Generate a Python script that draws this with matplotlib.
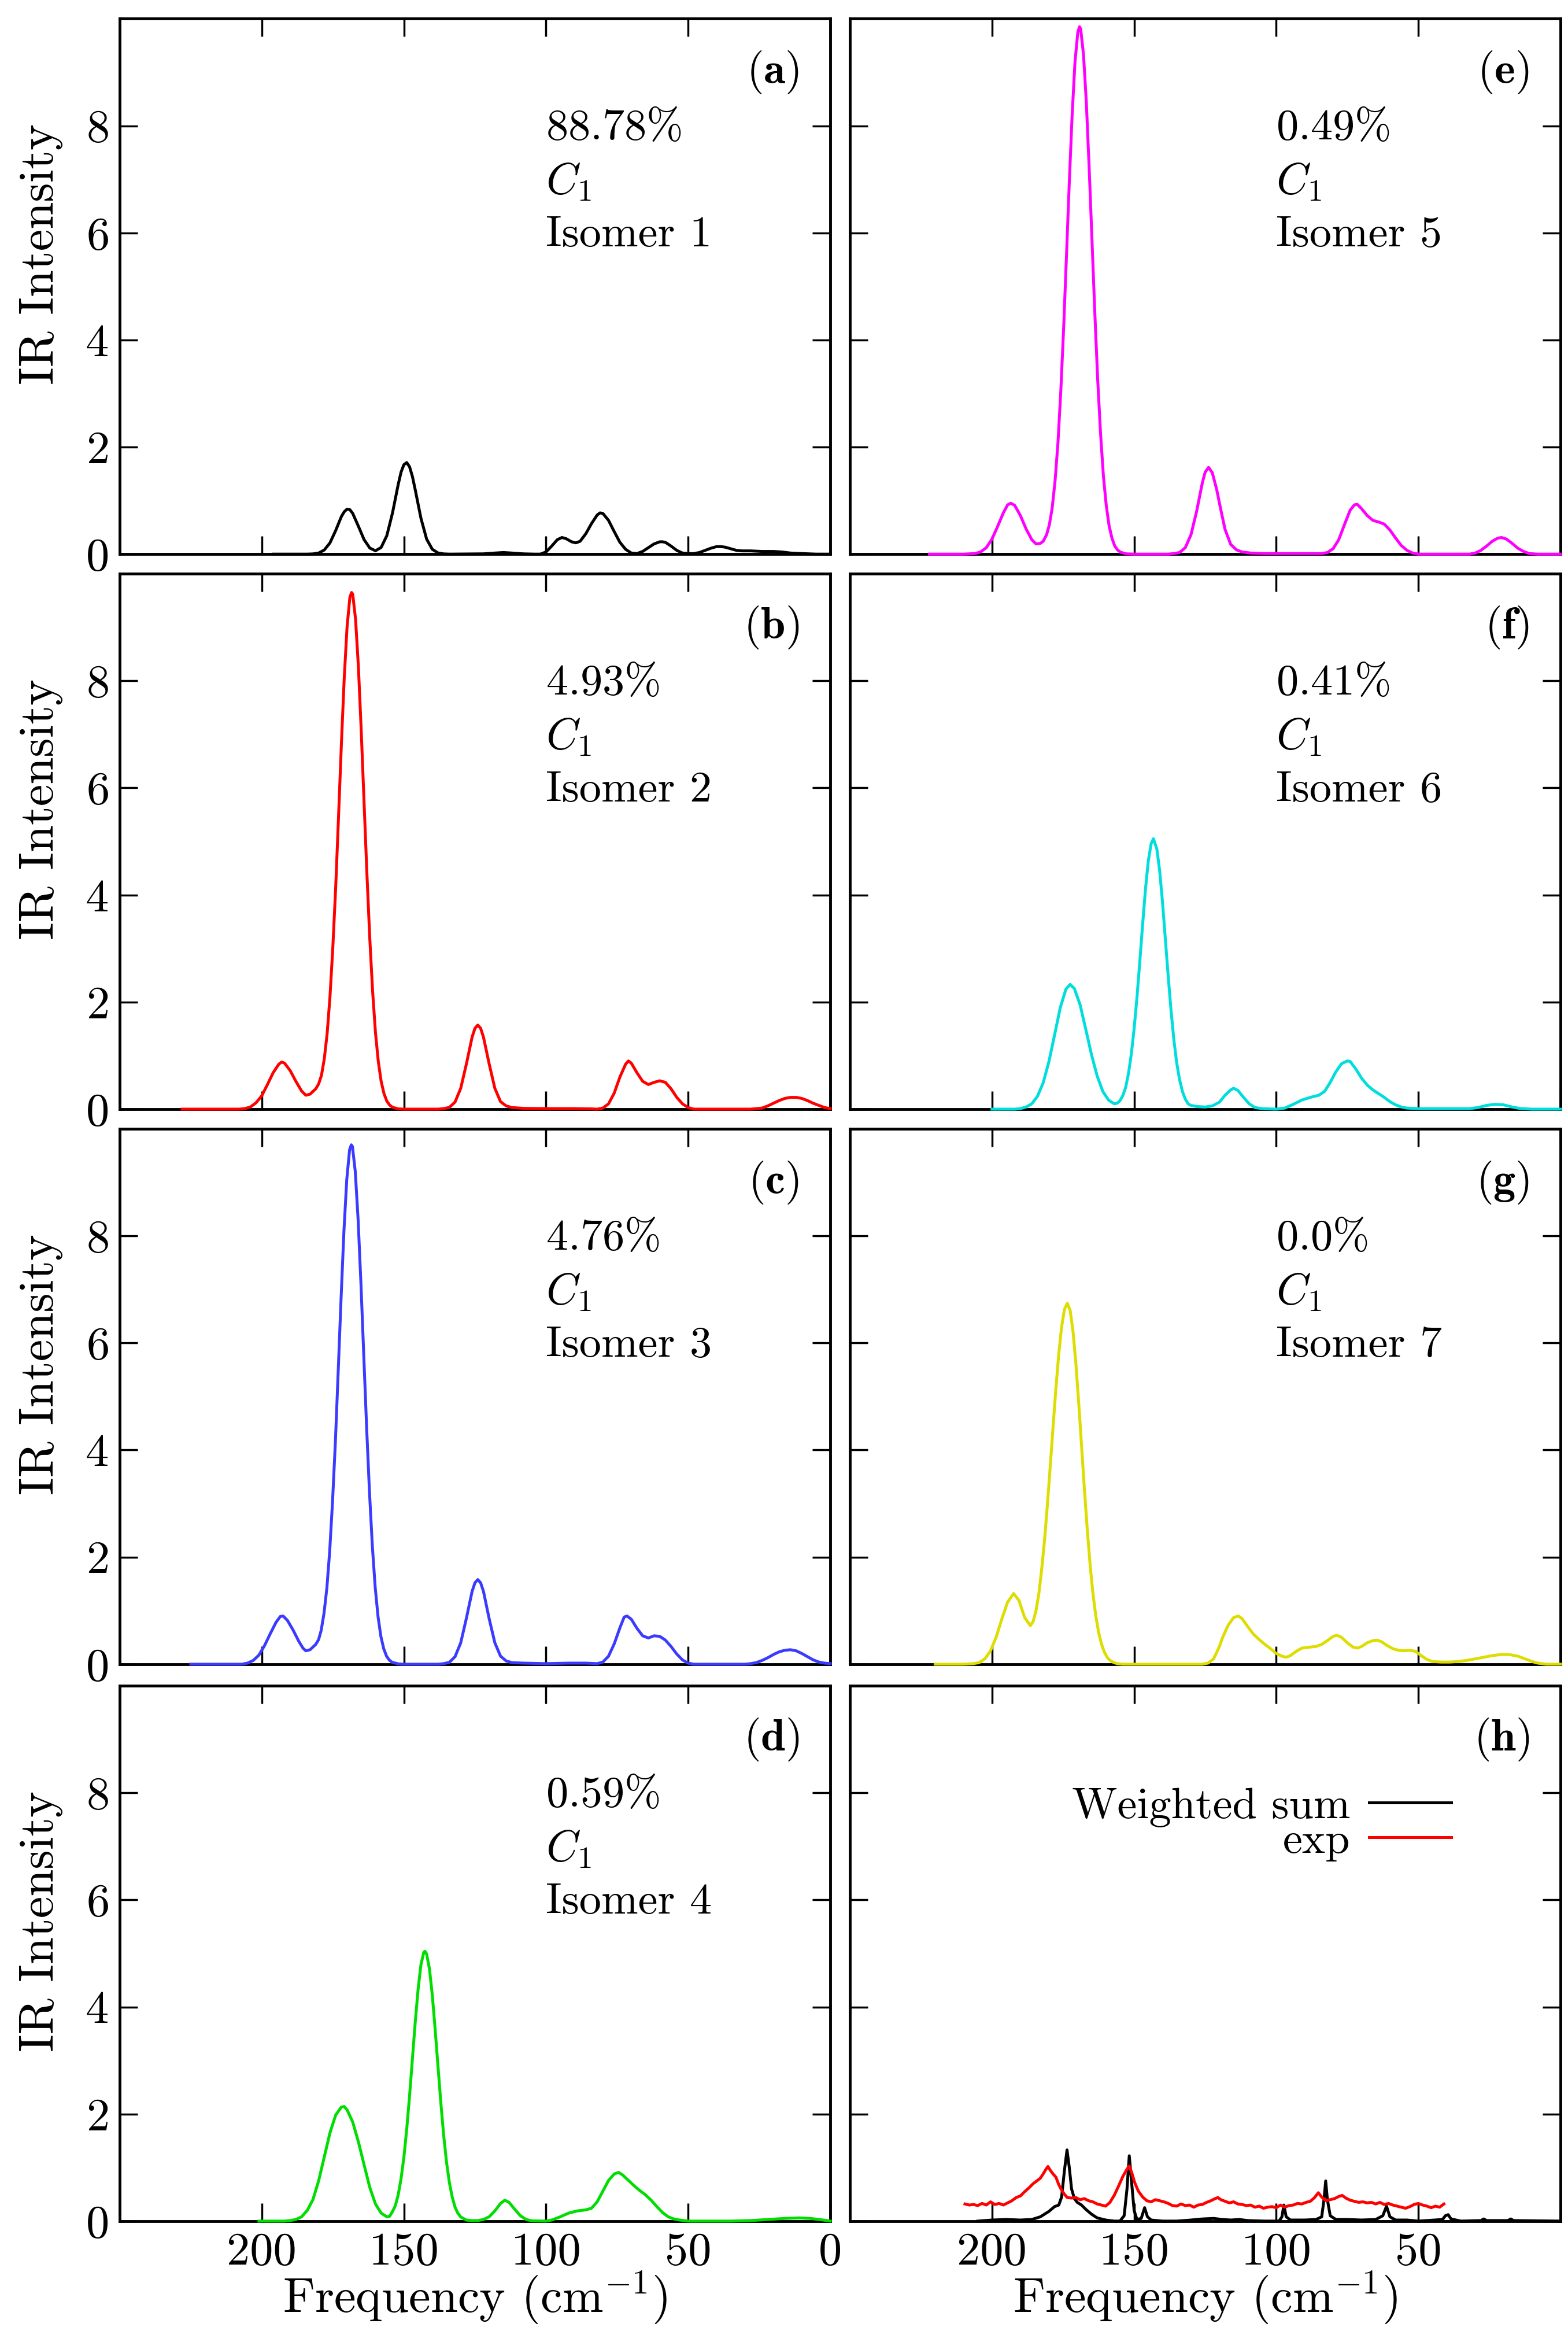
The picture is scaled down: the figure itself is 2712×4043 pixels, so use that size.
import matplotlib.pyplot as plt

plt.rcParams['font.family'] = 'cmr10'
plt.rcParams['mathtext.fontset'] = 'cm'
plt.rcParams['axes.formatter.use_mathtext'] = True
plt.rcParams['axes.unicode_minus'] = False

spec_a = [(196,0),(184,0),(182,0.004),(180,0.02),(178,0.077),(176,0.21),(174,0.44),(172,0.70),(171,0.79),(170,0.84),
          (169,0.83),(168,0.76),(166,0.52),(164,0.27),(162,0.114),(160,0.062),(158,0.124),(156,0.345),(154,0.77),(152,1.30),
          (151,1.53),(150,1.67),(149,1.71),(148,1.63),(147,1.45),(146,1.2),(144,0.67),(142,0.28),(140,0.09),(138,0.022),
          (136,0.004),(134,0),(122,0.005),(118,0.02),(115,0.03),(112,0.02),(108,0.005),(104,0),(102,0),(100,0.04),
          (98,0.15),(96,0.27),(94.4,0.31),(93,0.29),(91,0.23),(89.5,0.21),(88,0.24),(86,0.38),(84,0.57),(82,0.73),
          (81,0.77),(80,0.76),(78,0.63),(76,0.42),(74,0.22),(72,0.09),(70,0.02),(68,0.01),(66,0.05),(64,0.12),
          (62,0.19),(60,0.23),(59,0.23),(58,0.22),(56,0.15),(54,0.07),(52,0.02),(50,0.01),(48,0.01),(46,0.03),
          (44,0.07),(42,0.11),(40,0.14),(38.5,0.14),(37,0.13),(35,0.1),(33,0.07),(31,0.06),(28,0.06),(24,0.05),
          (20,0.05),(17,0.04),(14,0.02),(10,0.01),(5,0),(0,0)]

spec_b = [(228,0),(215,0),(208,0),(206,0.01),(204,0.04),(202,0.12),(200,0.25),(198,0.46),(196,0.68),(194,0.84),
          (193,0.88),(192,0.86),(190,0.72),(188,0.52),(186,0.34),(184.5,0.26),(183,0.28),(182,0.33),(181,0.38),(180,0.47),
          (179,0.63),(178,0.94),(177,1.41),(176,2.1),(175,3.02),(174,4.13),(173,5.45),(172,6.8),(171,8.04),(170,9.0),
          (169,9.56),(168.4,9.65),(168,9.62),(167,9.15),(166,8.26),(165,7.06),(164,5.72),(163,4.39),(162,3.19),(161,2.2),
          (160,1.43),(159,0.89),(158,0.52),(157,0.29),(156,0.15),(155,0.075),(154,0.035),(152,0.005),(150,0),(138,0),
          (136,0.01),(134,0.033),(132,0.133),(130,0.39),(128,0.846),(126,1.345),(125,1.51),(124,1.57),(123,1.51),(122,1.345),
          (120,0.846),(118,0.39),(116,0.14),(114,0.06),(112,0.03),(108,0.015),(100,0.01),(90,0.01),(84,0.005),(82,0),
          (80,0.02),(78,0.1),(76,0.3),(74,0.6),(72,0.84),(71,0.9),(70,0.86),(68,0.68),(66,0.52),(64,0.46),
          (62,0.5),(60,0.53),(58,0.5),(56,0.38),(54,0.22),(52,0.1),(50,0.03),(48,0),(28,0),(26,0.01),
          (24,0.02),(22,0.06),(20,0.11),(18,0.16),(16,0.2),(14,0.22),(12,0.22),(10,0.2),(8,0.16),(6,0.11),
          (4,0.07),(2,0.03),(0,0.01)]

spec_c = [(225,0),(212,0),(207,0),(205,0.02),(203,0.07),(201,0.17),(199,0.35),(197,0.57),(195,0.78),(193.5,0.89),
          (192.5,0.9),(191,0.82),(189,0.64),(187,0.43),(185.5,0.3),(184.5,0.25),(183,0.27),(182,0.32),(181,0.37),(180,0.46),
          (179.1,0.63),(178.1,0.95),(177.1,1.42),(176.1,2.11),(175.1,3.04),(174.1,4.15),(173.1,5.48),(172.1,6.83),(171.1,8.08),(170.1,9.05),
          (169.1,9.61),(168.5,9.7),(168.1,9.67),(167.1,9.2),(166.1,8.3),(165.1,7.1),(164.1,5.75),(163.1,4.41),(162.1,3.21),(161.1,2.21),
          (160.1,1.44),(159.1,0.89),(158.1,0.52),(157.1,0.29),(156.1,0.15),(155.1,0.075),(154.1,0.035),(152,0.006),(150,0),(138,0),
          (136,0.01),(134,0.035),(132,0.14),(130,0.4),(128,0.86),(126,1.36),(125,1.52),(124,1.58),(123,1.52),(122,1.36),
          (120,0.85),(118,0.4),(116,0.15),(114,0.06),(112,0.03),(108,0.02),(100,0.01),(92,0.02),(86,0.02),(82,0.01),
          (80,0.04),(78,0.15),(76,0.38),(74,0.68),(72.5,0.88),(71.5,0.9),(70,0.84),(68,0.67),(66,0.53),(64,0.49),
          (62,0.53),(60,0.52),(58,0.45),(56,0.33),(54,0.19),(52,0.08),(50,0.02),(48,0),(30,0),(28,0.01),
          (26,0.03),(24,0.07),(22,0.12),(20,0.18),(18,0.23),(16,0.26),(14,0.27),(12,0.25),(10,0.2),(8,0.14),
          (6,0.08),(4,0.04),(2,0.02),(0,0.01)]

spec_d = [(201,0),(192,0),(190,0.01),(188,0.03),(186,0.08),(184,0.2),(182,0.4),(180,0.75),(178,1.2),(176,1.65),
          (174,1.98),(172,2.13),(171,2.14),(170,2.08),(168,1.85),(166,1.48),(164,1.05),(162,0.63),(160,0.32),(158,0.15),
          (156,0.08),(155,0.09),(154,0.18),(153,0.29),(152,0.49),(151,0.79),(150,1.19),(149,1.72),(148,2.34),(147,3.03),
          (146,3.72),(145,4.33),(144,4.79),(143,5.02),(142.6,5.04),(142,4.99),(141,4.71),(140,4.22),(139,3.58),(138,2.89),
          (137,2.21),(136,1.6),(135,1.1),(134,0.72),(133,0.45),(132,0.26),(131,0.146),(130,0.077),(128,0.019),(126,0.01),
          (124,0.01),(122,0.03),(120,0.08),(118,0.19),(116,0.33),(114.5,0.39),(113,0.35),(111,0.22),(109,0.1),(107,0.03),
          (105,0.005),(100,0),(98,0.02),(95,0.08),(92,0.15),(89,0.19),(86,0.21),(84,0.24),(82,0.36),(80,0.56),
          (78,0.76),(76,0.88),(74.5,0.91),(73,0.86),(71,0.76),(69,0.66),(67,0.57),(65,0.49),(63,0.39),(61,0.27),
          (59,0.16),(57,0.08),(55,0.04),(53,0.02),(50,0),(35,0),(28,0.01),(22,0.03),(16,0.05),(11,0.06),
          (7,0.05),(4,0.03),(1,0.01),(0,0)]

spec_e = [(222,0),(210,0),(206,0.01),(204,0.04),(202,0.12),(200,0.28),(198,0.52),(196,0.77),(194.5,0.92),(193.4,0.95),
          (192,0.91),(190,0.72),(188,0.47),(186,0.27),(184.5,0.19),(183,0.2),(182,0.24),(180.8,0.36),(179.8,0.55),(178.8,0.87),
          (177.8,1.37),(176.8,2.07),(175.8,3.03),(174.8,4.21),(173.8,5.56),(172.8,6.94),(171.8,8.2),(170.8,9.19),(169.8,9.75),(169.2,9.85),
          (168.8,9.81),(167.8,9.33),(166.8,8.43),(165.8,7.2),(164.8,5.84),(163.8,4.48),(162.8,3.25),(161.8,2.25),(160.8,1.46),(159.8,0.91),
          (158.8,0.53),(157.8,0.3),(156.8,0.15),(155.8,0.077),(154.8,0.036),(152.8,0.005),(150,0),(138,0),(136,0.01),(134,0.03),
          (132,0.12),(130,0.36),(128,0.8),(126,1.33),(125,1.53),(123.8,1.62),(122.5,1.52),(121,1.22),(119.5,0.83),(118,0.46),
          (116,0.18),(114,0.08),(112,0.04),(109,0.02),(104,0.01),(96,0.01),(90,0.01),(84,0.01),(82,0.03),(80,0.1),
          (78,0.27),(76,0.55),(74,0.82),(72.5,0.92),(71.5,0.93),(70,0.85),(68,0.72),(66,0.63),(64,0.6),(62,0.56),
          (60,0.45),(58,0.3),(56,0.16),(54,0.07),(52,0.02),(50,0),(32,0),(30,0.02),(28,0.07),(26,0.15),
          (24,0.24),(22,0.3),(20.7,0.31),(19,0.28),(17,0.2),(15,0.11),(13,0.05),(11,0.01),(8,0),(0,0)]

spec_f = [(200,0),(192,0),(190,0.01),(188,0.04),(186,0.1),(184,0.24),(182,0.49),(180,0.88),(178,1.38),(176,1.89),
          (174,2.24),(172.5,2.33),(171,2.25),(169,1.95),(167,1.49),(165,1.02),(163,0.62),(161,0.33),(159,0.17),(157,0.1),
          (156,0.11),(155,0.155),(154,0.25),(153,0.4),(152,0.66),(151,1.02),(150,1.5),(149,2.08),(148,2.75),(147,3.45),
          (146,4.11),(145,4.64),(144,4.96),(143.2,5.05),(142,4.86),(141,4.45),(140,3.86),(139,3.17),(138,2.48),(137,1.84),
          (136,1.29),(135,0.86),(134,0.55),(133,0.33),(132,0.19),(131,0.1),(130,0.07),(128,0.05),(125,0.04),(122.5,0.06),
          (120,0.13),(118,0.26),(116,0.36),(115,0.39),(113.5,0.35),(111.5,0.22),(109.5,0.1),(107.5,0.03),(105,0.01),(100,0),
          (97,0.02),(94,0.09),(91,0.17),(88,0.22),(85,0.26),(83,0.33),(81,0.5),(79,0.7),(77,0.85),(75,0.9),
          (74,0.89),(72,0.75),(70,0.58),(68,0.45),(66,0.36),(64,0.29),(62,0.22),(60,0.14),(58,0.08),(56,0.04),
          (54,0.02),(50,0.01),(40,0.01),(32,0.01),(29,0.03),(26,0.07),(23,0.09),(20,0.08),(17,0.04),(14,0.01),
          (10,0),(0,0)]

spec_g = [(220,0),(210,0),(206.5,0.01),(204.5,0.03),(202.5,0.1),(200.5,0.25),(198.5,0.51),(196.5,0.85),(194.5,1.16),(192.4,1.32),
          (190.5,1.19),(188.5,0.87),(186.5,0.72),(185.5,0.8),(184.5,1.0),(183.5,1.32),(182.5,1.78),(181.5,2.32),(180.5,2.98),(179.5,3.7),
          (178.5,4.44),(177.5,5.16),(176.5,5.8),(175.5,6.3),(174.5,6.63),(173.5,6.74),(172.5,6.61),(171.5,6.22),(170.5,5.63),(169.5,4.89),
          (168.5,4.09),(167.5,3.28),(166.5,2.53),(165.5,1.87),(164.5,1.33),(163.5,0.91),(162.5,0.6),(161.5,0.38),(160.5,0.23),(159.5,0.13),
          (158.5,0.074),(157.5,0.04),(156,0.01),(154,0),(126,0),(124,0.02),(122,0.1),(120,0.33),(119,0.48),(117,0.72),
          (115,0.87),(113.3,0.9),(112,0.85),(110,0.7),(108,0.56),(106,0.46),(104,0.37),(102,0.29),(100,0.2),(98,0.15),
          (96.5,0.13),(95,0.16),(93,0.24),(91,0.3),(88,0.32),(86,0.33),(84,0.37),(82,0.44),(80,0.52),(78.6,0.54),
          (77,0.5),(75,0.4),(73,0.32),(71.5,0.3),(70,0.33),(68,0.4),(66,0.44),(64.5,0.45),(63,0.42),(61,0.35),
          (59,0.29),(57,0.26),(55,0.25),(53,0.26),(51,0.24),(49,0.16),(47,0.09),(45,0.05),(42,0.04),(39,0.04),
          (36,0.05),(33,0.07),(30,0.1),(27,0.13),(24,0.16),(21,0.18),(18,0.18),(15,0.15),(12,0.09),(10,0.05),
          (8,0.02),(5,0),(0,0)]

spec_h_sum = [(205,0),(200,0.02),(195,0.03),(190,0.02),(186,0.03),(183,0.08),(180,0.18),(178,0.27),(176.5,0.3),(175.5,0.45),
              (174.5,0.95),(173.6,1.33),(172.8,1.0),(172,0.6),(171,0.42),(170,0.35),(168.5,0.3),(167,0.22),(165,0.13),(163,0.06),
              (160,0.02),(157,0),(155,0),(153.5,0.1),(152.5,0.6),(151.7,1.22),(151,0.8),(150,0.2),(149,0.03),(147.5,0.05),
              (146.3,0.25),(145.3,0.08),(144,0.02),(140,0),(135,0),(130,0.02),(126,0.04),(122,0.05),(119,0.03),(116,0.02),
              (113,0.03),(110,0.01),(104,0),(99,0),(98,0.08),(97.3,0.3),(96.5,0.08),(95,0.02),(90,0.02),(86,0.03),
              (84,0.08),(83.2,0.4),(82.6,0.75),(82,0.4),(81,0.1),(79,0.03),(75,0.03),(70,0.02),(65,0.03),(62.5,0.1),
              (61.2,0.28),(60,0.08),(58,0.02),(54,0.02),(50,0),(41.5,0.03),(40.5,0.1),(39.5,0.12),(38.5,0.04),(35,0),
              (28,0.01),(27,0.04),(26,0.01),(18.5,0.01),(17.5,0.04),(16.5,0.01),(0,0)]

spec_h_exp = [(209.5,0.32),(208,0.3),(206.5,0.31),(205,0.29),(203.5,0.33),(202,0.3),(200.5,0.36),(199,0.31),(197.5,0.33),(196,0.3),
              (194.5,0.34),(193,0.38),(191.5,0.44),(190,0.47),(188.5,0.55),(187,0.62),(185.5,0.7),(184,0.76),(183,0.8),(182,0.88),
              (181,0.97),(180.3,1.02),(179.5,0.95),(178.5,0.88),(177.5,0.82),(176.5,0.68),(175.5,0.58),(174.5,0.5),(173.5,0.44),(172,0.43),
              (170.5,0.44),(169,0.4),(167.5,0.42),(166,0.38),(164.5,0.36),(163,0.32),(161.5,0.3),(160,0.28),(158.5,0.35),(157,0.48),
              (155.5,0.65),(154,0.83),(152.5,0.97),(151.7,1.03),(150.8,0.9),(149.8,0.72),(148.5,0.56),(147,0.45),(145.5,0.38),(144,0.36),
              (142.5,0.4),(141,0.38),(139.5,0.36),(138,0.33),(136.5,0.29),(135,0.28),(133.5,0.32),(132,0.29),(130.5,0.3),(129,0.26),
              (127.5,0.3),(126,0.31),(124.5,0.35),(123,0.38),(121.5,0.42),(120.5,0.44),(119.5,0.4),(118,0.37),(116.5,0.34),(115,0.36),
              (113.5,0.32),(112,0.31),(110.5,0.29),(109,0.3),(107.5,0.26),(106,0.28),(104.5,0.24),(103,0.26),(101.5,0.27),(100,0.25),
              (98.5,0.3),(97,0.26),(95.5,0.29),(94,0.3),(92.5,0.33),(91,0.32),(89.5,0.35),(88,0.37),(86.5,0.44),(85.2,0.53),
              (84,0.45),(82.5,0.38),(81,0.4),(79.5,0.42),(78,0.46),(76.8,0.48),(75.5,0.43),(74,0.39),(72.5,0.37),(71,0.35),
              (69.5,0.36),(68,0.34),(66.5,0.35),(65,0.32),(63.5,0.35),(62,0.31),(60.5,0.33),(59,0.3),(57.5,0.28),(56,0.26),
              (54.5,0.24),(53,0.27),(51.5,0.31),(50,0.33),(48.5,0.3),(47,0.28),(45.5,0.25),(44,0.28),(42.5,0.26),(41,0.32)]

spectra = [spec_a, spec_b, spec_c, spec_d, spec_e, spec_f, spec_g]
colors = ['black', '#ff0000', '#3b3bff', '#00dd00', '#ff00ff', '#00dddd', '#dddd00']
populations = ['88.78', '4.93', '4.76', '0.59', '0.49', '0.41', '0.0']
isomers = ['Isomer 1', 'Isomer 2', 'Isomer 3', 'Isomer 4', 'Isomer 5', 'Isomer 6', 'Isomer 7']
letters = ['a', 'b', 'c', 'd', 'e', 'f', 'g', 'h']
xticks = [200, 150, 100, 50, 0]
yticks = [0, 2, 4, 6, 8]

fig = plt.figure(figsize=(27.12, 40.43), dpi=100)
lefts = [0.0763, 0.542]
bottoms = [0.7630, 0.5256, 0.2882, 0.0500]
w, h = 0.4532, 0.229

lw = 3.6
fs = 55

axes = []
for i in range(8):
    col, row = i // 4, i % 4
    ax = fig.add_axes([lefts[col], bottoms[row], w, h])
    ax.set_xlim(250, 0)
    ax.set_ylim(0, 10)
    ax.set_xticks(xticks)
    ax.set_yticks(yticks)
    ax.tick_params(direction='in', top=True, right=True, length=22, width=2.5,
                   labelsize=58, pad=14)
    for s in ax.spines.values():
        s.set_linewidth(3.5)
    if col == 0:
        ax.set_ylabel('IR Intensity', fontsize=61)
        ax.yaxis.set_label_coords(-0.08, 0.56)
        ax.set_xticklabels(['200', '150', '100', '50', '0'])
    else:
        ax.tick_params(labelleft=False)
        ax.set_xticklabels(['200', '150', '100', '50', ''])
    if row == 3:
        ax.set_xlabel(r'Frequency (cm$^{-1}$)', fontsize=61)
        ax.xaxis.set_label_coords(0.5, -0.09)
    else:
        ax.tick_params(labelbottom=False)
    ax.text(11, 9.0, r'$(\mathbf{%s})$' % letters[i], ha='right', va='center', fontsize=fs)
    axes.append(ax)

for i in range(7):
    ax = axes[i]
    x, y = zip(*spectra[i])
    ax.plot(x, y, color=colors[i], lw=lw, zorder=3, clip_on=False, solid_joinstyle='round')
    ax.text(100, 7.95, r'$%s\%%$' % populations[i], ha='left', va='center', fontsize=fs)
    ax.text(100, 6.95, r'$C_1$', ha='left', va='center', fontsize=fs)
    ax.text(100, 5.95, isomers[i], ha='left', va='center', fontsize=fs)

ax = axes[7]
x, y = zip(*spec_h_sum)
ax.plot(x, y, color='black', lw=lw, zorder=3, clip_on=False, label='Weighted sum')
x, y = zip(*spec_h_exp)
ax.plot(x, y, color='#ff0000', lw=lw, zorder=3, label='exp')
ax.legend(loc='center right', bbox_to_anchor=(38.5, 7.41), bbox_transform=ax.transData,
          frameon=False, markerfirst=False, handlelength=1.86, handletextpad=0.42,
          labelspacing=-0.12, borderpad=0, borderaxespad=0, fontsize=fs)

fig.savefig('out.png', dpi=100)
